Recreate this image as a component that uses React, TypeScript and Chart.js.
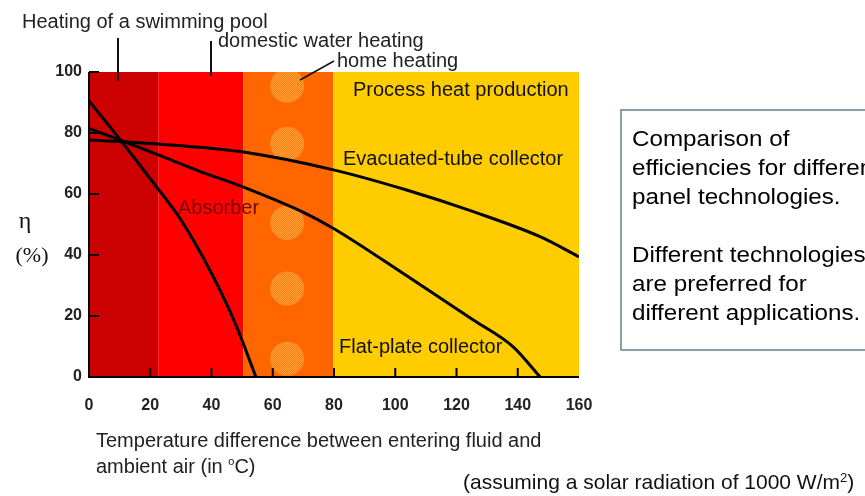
import React, { useEffect, useRef } from "react";
import { Chart, registerables } from "chart.js";
Chart.register(...registerables);

// ---- data ----
const xTickValues = [0, 20, 40, 60, 80, 100, 120, 140, 160];
const yTickValues = [0, 20, 40, 60, 80, 100];

const absorberX = [0, 10, 20, 30, 40, 48, 54.5];
const absorberY = [90.5, 78, 65, 51.5, 34, 17, 0];

const flatPlateX = [0, 9.6, 22.6, 35.7, 50, 71, 80, 104, 125.5, 138.5, 147.3];
const flatPlateY = [81.5, 77.9, 72.8, 67.6, 62.4, 53.5, 48.6, 33, 18.7, 9.9, 0];

const evacuatedX = [0, 22.6, 49.3, 79.8, 103.7, 125.5, 147.3, 160];
const evacuatedY = [77.7, 76.4, 73.9, 67.9, 61.3, 54.2, 46, 39.4];

const bandStart = [0, 22.6, 50.4, 79.8];
const bandEnd = [22.6, 50.4, 79.8, 160];
const bandColors = ["#cc0000", "#ff0000", "#ff6600", "#ffcc00"];

const boxLines = [
  "Comparison of",
  "efficiencies for different",
  "panel technologies.",
  "",
  "Different technologies",
  "are preferred for",
  "different applications.",
];

const SANS = "'Liberation Sans', Arial, Helvetica, sans-serif";
const SERIF = "'Liberation Serif', 'Times New Roman', serif";

function pts(xs: number[], ys: number[]) {
  return xs.map((x, i) => ({ x, y: ys[i] }));
}

function txt(
  ctx: CanvasRenderingContext2D,
  s: string,
  x: number,
  y: number,
  font: string,
  color: string,
  align: CanvasTextAlign = "left",
  sx = 1,
  baseline: CanvasTextBaseline = "alphabetic"
): number {
  ctx.save();
  ctx.font = font;
  ctx.fillStyle = color;
  ctx.textBaseline = baseline;
  ctx.textAlign = align;
  ctx.translate(x, y);
  ctx.scale(sx, 1);
  ctx.fillText(s, 0, 0);
  const w = ctx.measureText(s).width * sx;
  ctx.restore();
  return w;
}

const decorPlugin = {
  id: "decor",
  beforeDatasetsDraw(chart: any) {
    const { ctx, chartArea, scales } = chart;
    const xs = scales.x;
    const ys = scales.y;
    ctx.save();
    bandStart.forEach((s, i) => {
      const x0 = xs.getPixelForValue(s);
      const x1 = xs.getPixelForValue(bandEnd[i]);
      ctx.fillStyle = bandColors[i];
      ctx.fillRect(x0, chartArea.top, x1 - x0, chartArea.bottom - chartArea.top);
    });
    // dotted circles in the home-heating band
    const pc = document.createElement("canvas");
    pc.width = 4;
    pc.height = 4;
    const p = pc.getContext("2d")!;
    p.fillStyle = "#ff8420";
    p.fillRect(0, 0, 4, 4);
    p.fillStyle = "#ffa83a";
    p.fillRect(0, 0, 1, 1);
    p.fillRect(2, 0, 1, 1);
    p.fillRect(1, 1, 1, 1);
    p.fillRect(3, 1, 1, 1);
    p.fillRect(0, 2, 1, 1);
    p.fillRect(2, 2, 1, 1);
    p.fillRect(1, 3, 1, 1);
    p.fillRect(3, 3, 1, 1);
    const pattern = ctx.createPattern(pc, "repeat");
    ctx.beginPath();
    ctx.rect(chartArea.left, chartArea.top, chartArea.right - chartArea.left, chartArea.bottom - chartArea.top);
    ctx.clip();
    const cx = xs.getPixelForValue(64.7);
    [95.5, 76.5, 50.5, 29, 6].forEach((v) => {
      ctx.beginPath();
      ctx.arc(cx, ys.getPixelForValue(v), 17, 0, Math.PI * 2);
      ctx.fillStyle = pattern;
      ctx.globalAlpha = 0.85;
      ctx.fill();
    });
    ctx.restore();
  },
  afterDatasetsDraw(chart: any) {
    const { ctx, chartArea, scales } = chart;
    const xs = scales.x;
    const ys = scales.y;
    const L = chartArea.left;
    const B = chartArea.bottom;
    ctx.save();
    ctx.strokeStyle = "#000";
    ctx.lineWidth = 2;
    ctx.beginPath();
    ctx.moveTo(L, chartArea.top);
    ctx.lineTo(L, B);
    ctx.lineTo(chartArea.right, B);
    ctx.stroke();
    xTickValues.forEach((v) => {
      if (v === 0 || v === 160) return;
      const x = xs.getPixelForValue(v);
      ctx.beginPath();
      ctx.moveTo(x, B);
      ctx.lineTo(x, B - 9);
      ctx.stroke();
    });
    yTickValues.forEach((v) => {
      if (v === 0) return;
      const y = ys.getPixelForValue(v);
      ctx.beginPath();
      ctx.moveTo(L, y);
      ctx.lineTo(L + 10, y);
      ctx.stroke();
    });
    ctx.restore();

    // in-plot labels
    const f20 = `20px ${SANS}`;
    txt(ctx, "Process heat production", 353, 90, f20, "#111", "left", 1, "middle");
    txt(ctx, "Evacuated-tube collector", 343, 159, f20, "#111", "left", 1, "middle");
    txt(ctx, "Flat-plate collector", 339, 347, f20, "#111", "left", 1, "middle");
    txt(ctx, "Absorber", 178, 208, f20, "#7a0000", "left", 1, "middle");

    // top annotations
    txt(ctx, "Heating of a swimming pool", 22, 28, f20, "#222");
    txt(ctx, "domestic water heating", 218, 47, f20, "#222");
    txt(ctx, "home heating", 337, 67, f20, "#222");
    ctx.save();
    ctx.strokeStyle = "#111";
    ctx.lineWidth = 2;
    ctx.beginPath();
    ctx.moveTo(118, 38);
    ctx.lineTo(118, 81);
    ctx.moveTo(211, 41);
    ctx.lineTo(211, 76);
    ctx.stroke();
    ctx.lineWidth = 1.5;
    ctx.beginPath();
    ctx.moveTo(334, 61);
    ctx.lineTo(300, 80);
    ctx.stroke();
    ctx.restore();

    // y-axis title
    txt(ctx, "η", 25, 222, `24px ${SERIF}`, "#111", "center", 1, "middle");
    txt(ctx, "(%)", 32, 256, `22px ${SERIF}`, "#111", "center", 1, "middle");

    // x-axis title
    txt(ctx, "Temperature difference between entering fluid and", 96, 447, f20, "#222");
    const wa = txt(ctx, "ambient air (in ", 96, 473, f20, "#222");
    const wo = txt(ctx, "o", 96 + wa, 465, `11px ${SANS}`, "#222");
    txt(ctx, "C)", 96 + wa + wo, 473, f20, "#222");

    // assumption note
    const f21 = `21px ${SANS}`;
    const w1 = txt(ctx, "(assuming a solar radiation of 1000 W/m", 463, 489, f21, "#111");
    const w2 = txt(ctx, "2", 463 + w1, 482, `13px ${SANS}`, "#111");
    txt(ctx, ")", 463 + w1 + w2, 489, f21, "#111");

    // text box
    ctx.save();
    ctx.strokeStyle = "#8aa0a8";
    ctx.lineWidth = 2;
    ctx.strokeRect(621, 110, 300, 240);
    ctx.restore();
    const boxY = [140, 169, 198, 227, 256, 285, 314];
    boxLines.forEach((s, i) => {
      if (s) txt(ctx, s, 632, boxY[i], `22px ${SANS}`, "#000", "left", 1.1, "middle");
    });
  },
};

export default function App() {
  const ref = useRef<HTMLCanvasElement>(null);
  useEffect(() => {
    const canvas = ref.current!;
    const chart = new Chart(canvas, {
      type: "line",
      data: {
        datasets: [
          { label: "Absorber", data: pts(absorberX, absorberY) },
          { label: "Flat-plate collector", data: pts(flatPlateX, flatPlateY) },
          { label: "Evacuated-tube collector", data: pts(evacuatedX, evacuatedY) },
        ].map((d) => ({
          ...d,
          borderColor: "#000",
          borderWidth: 3,
          pointRadius: 0,
          cubicInterpolationMode: "monotone" as const,
          fill: false,
        })),
      },
      options: {
        responsive: false,
        animation: false,
        devicePixelRatio: 1,
        layout: { padding: { top: 72, right: 286, left: 0, bottom: 0 } },
        plugins: { legend: { display: false }, tooltip: { enabled: false } },
        scales: {
          x: {
            type: "linear",
            min: 0,
            max: 160,
            grid: { display: false, drawTicks: false },
            border: { display: false },
            ticks: {
              stepSize: 20,
              padding: 19,
              color: "#222",
              font: { family: SANS, size: 16, weight: "bold" },
            },
            afterFit: (s: any) => {
              s.height = 119;
            },
          },
          y: {
            type: "linear",
            min: 0,
            max: 100,
            grid: { display: false, drawTicks: false },
            border: { display: false },
            ticks: {
              stepSize: 20,
              padding: 7,
              color: "#222",
              font: { family: SANS, size: 16, weight: "bold" },
            },
            afterFit: (s: any) => {
              s.width = 89;
            },
          },
        },
      },
      plugins: [decorPlugin],
    });
    return () => chart.destroy();
  }, []);
  return (
    <div style={{ position: "fixed", left: 0, top: 0, width: 865, height: 496, background: "#fff" }}>
      <canvas ref={ref} width={865} height={496} style={{ width: 865, height: 496 }} />
    </div>
  );
}
